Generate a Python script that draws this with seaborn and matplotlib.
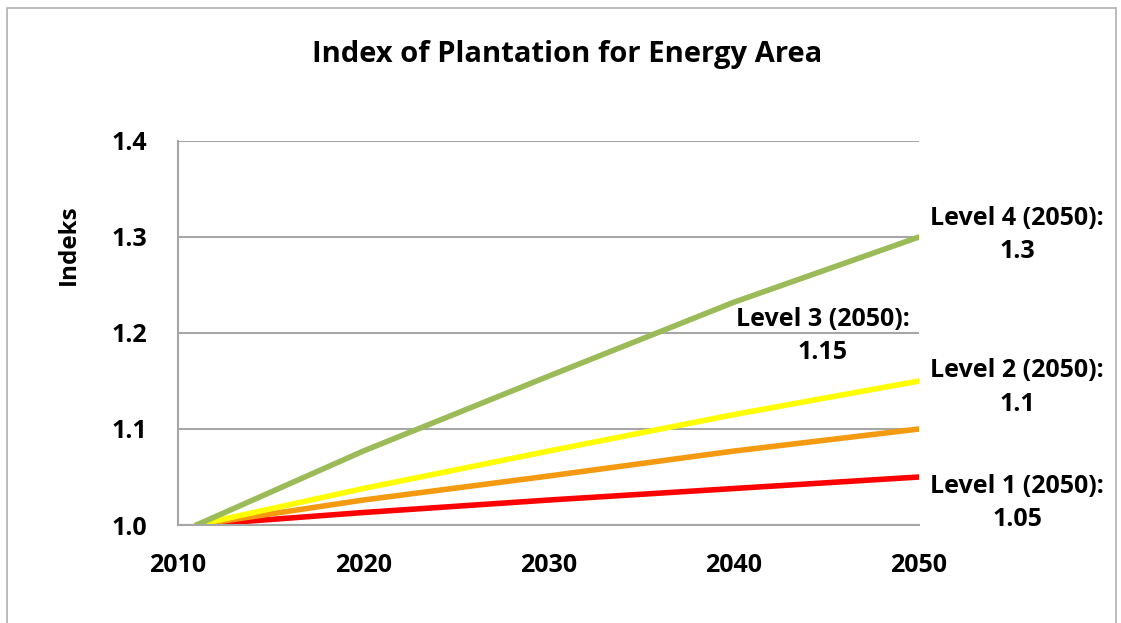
import numpy as np
import pandas as pd
import matplotlib
matplotlib.use("Agg")
import matplotlib.pyplot as plt
from matplotlib.patches import Rectangle
import seaborn as sns

years = [2011, 2020, 2030, 2040, 2050]
level1 = [1.0, 1.013, 1.026, 1.038, 1.05]
level2 = [1.0, 1.026, 1.051, 1.077, 1.1]
level3 = [1.0, 1.038, 1.077, 1.115, 1.15]
level4 = [1.0, 1.077, 1.155, 1.232, 1.3]
levels = ["Level 1", "Level 2", "Level 3", "Level 4"]
colors = ["#ff0000", "#f39a10", "#ffff00", "#9bbb59"]

x_ticks = [2010, 2020, 2030, 2040, 2050]
y_ticks = [1.0, 1.1, 1.2, 1.3, 1.4]
y_tick_labels = ["1.0", "1.1", "1.2", "1.3", "1.4"]

# end labels: text, x, y (data coords)
end_labels = [
    ("Level 4 (2050):\n1.3", 2055.3, 1.302),
    ("Level 3 (2050):\n1.15", 2044.8, 1.197),
    ("Level 2 (2050):\n1.1", 2055.3, 1.143),
    ("Level 1 (2050):\n1.05", 2055.3, 1.023),
]

df = pd.DataFrame({
    "year": years * 4,
    "index": level1 + level2 + level3 + level4,
    "level": [lv for lv in levels for _ in years],
})

sns.set_style("white", {"text.color": "black", "xtick.color": "black",
                        "ytick.color": "black"})
plt.rcParams["font.family"] = ["Open Sans", "DejaVu Sans"]
plt.rcParams["font.weight"] = "bold"

fig = plt.figure(figsize=(11.21, 6.23), dpi=100)
ax = fig.add_axes([0.1588, 0.1573, 0.661, 0.6164])

sns.lineplot(data=df, x="year", y="index", hue="level", palette=colors,
             linewidth=4, legend=False, ax=ax, solid_capstyle="round")

ax.set_xlim(2010, 2050)
ax.set_ylim(1.0, 1.4)
ax.set_xticks(x_ticks)
ax.set_xticklabels([str(v) for v in x_ticks], fontsize=18, fontweight="bold")
ax.set_yticks(y_ticks)
ax.set_yticklabels(y_tick_labels, fontsize=18, fontweight="bold")
ax.tick_params(axis="y", length=0, pad=22, labelcolor="black")
ax.tick_params(axis="x", length=0, pad=20, labelcolor="black")
ax.set_xlabel("")
ax.set_ylabel("")
ax.yaxis.grid(True, color="#a6a6a6", linewidth=1.5)
ax.set_axisbelow(True)
for s in ["top", "right"]:
    ax.spines[s].set_visible(False)
for s in ["left", "bottom"]:
    ax.spines[s].set_color("#a6a6a6")
    ax.spines[s].set_linewidth(1.5)

for txt, xx, yy in end_labels:
    ax.text(xx, yy, txt, ha="center", va="center", fontsize=18, color="black",
            fontweight="bold", clip_on=False, linespacing=1.45)

fig.text(0.506, 0.913, "Index of Plantation for Energy Area", ha="center",
         va="center", fontsize=21, fontweight="bold", color="black")
fig.text(0.061, 0.607, "Indeks", ha="center", va="center", rotation=90,
         fontsize=17.5, fontweight="bold", color="black")

fig.patches.append(Rectangle((0.0062, -0.02), 0.9895, 1.007, transform=fig.transFigure,
                             fill=False, edgecolor="#b0b0b0", linewidth=1.2))

fig.savefig("out.png", dpi=100)
